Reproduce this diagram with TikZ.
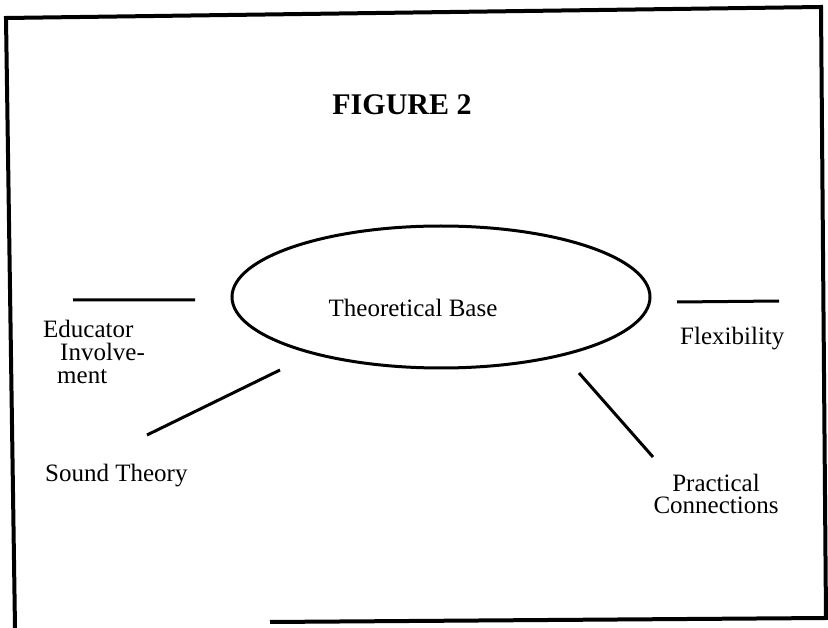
\documentclass[tikz,border=0pt]{standalone}
\usepackage{fontspec}
\setmainfont{Liberation Serif}
\usetikzlibrary{shapes.geometric}

\begin{document}
\begin{tikzpicture}[x=1pt, y=-1pt,
    txt/.style={font=\fontsize{25}{23}\selectfont, inner sep=0pt},
    spoke/.style={line width=3pt}]
    \useasboundingbox (0,0) rectangle (828,628);
    \draw[line width=4pt] (270,622) -- (826,618) -- (821,7) -- (6,18) -- (15,628);

    \node[font=\fontsize{30}{32}\selectfont\bfseries, inner sep=0pt, anchor=base] (title) at (402,115) {FIGURE 2};
    \node[draw, ellipse, line width=3pt, minimum width=418pt, minimum height=142pt] (ring) at (441,297) {};
    \node[txt, anchor=base] (base) at (413,317) {Theoretical Base};

    \node[txt, anchor=north west, align=left] (edu) at (43,320) {Educator\\\hspace*{17pt}Involve-\\\hspace*{14pt}ment};
    \node[txt, anchor=base west] (flex) at (680,345) {Flexibility};
    \node[txt, anchor=base west] (sound) at (45,482) {Sound Theory};
    \node[txt, anchor=north, align=center, font=\fontsize{25}{22}\selectfont] (prac) at (716,474) {Practical\\Connections};

    \coordinate (edu-l) at (73,300);
    \coordinate (edu-r) at (195,300);
    \coordinate (flex-l) at (677,302);
    \coordinate (flex-r) at (779,301);
    \coordinate (sound-a) at (147,435);
    \coordinate (sound-b) at (280,370);
    \coordinate (prac-a) at (579,373);
    \coordinate (prac-b) at (653,457);

    \draw[spoke]
    (edu-l) -- (edu-r)
    (flex-l) -- (flex-r)
    (sound-a) -- (sound-b)
    (prac-a) -- (prac-b);
\end{tikzpicture}
\end{document}
